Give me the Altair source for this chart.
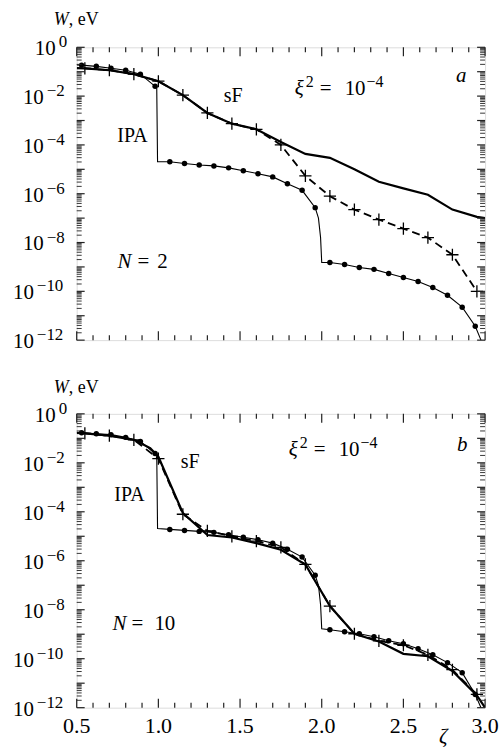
import altair as alt
import pandas as pd

FONT = "Liberation Serif"

# ---------------- data (log10 of W in eV) ----------------
cross_x = [0.55, 0.70, 0.85, 1.00, 1.15, 1.30, 1.45, 1.60, 1.75, 1.90, 2.05, 2.20, 2.35, 2.50, 2.65, 2.80, 2.95]
a_dash_lg = [-0.86, -0.94, -1.10, -1.39, -1.96, -2.69, -3.13, -3.36, -4.00, -5.27, -6.10, -6.65, -7.06, -7.43, -7.80, -8.50, -10.0]
b_dash_lg = [-0.80, -0.89, -1.06, -1.83, -4.10, -4.78, -5.00, -5.20, -5.45, -6.15, -7.85, -8.98, -9.27, -9.45, -9.84, -10.45, -11.46]

a_sF_x = [0.50, 0.55, 0.70, 0.85, 1.00, 1.15, 1.30, 1.45, 1.60, 1.75, 1.90, 2.05, 2.20, 2.35, 2.50, 2.65, 2.80, 2.95, 3.00]
a_sF_lg = [-0.85, -0.86, -0.94, -1.10, -1.39, -1.96, -2.69, -3.13, -3.36, -3.88, -4.37, -4.53, -5.00, -5.51, -5.78, -6.04, -6.65, -6.95, -7.00]
b_sF_x = [0.50, 0.55, 0.70, 0.85, 0.95, 1.00, 1.15, 1.30, 1.45, 1.60, 1.75, 1.90, 2.05, 2.20, 2.35, 2.50, 2.65, 2.80, 2.95, 3.00]
b_sF_lg = [-0.78, -0.80, -0.89, -1.06, -1.40, -1.75, -4.05, -4.95, -5.05, -5.28, -5.55, -6.15, -7.85, -8.98, -9.30, -9.80, -9.90, -10.50, -11.50, -12.0]

dot_x = [0.53, 0.62, 0.71, 0.80, 0.89, 0.98, 1.07, 1.16, 1.25, 1.34, 1.43, 1.52, 1.61, 1.70, 1.79, 1.88, 1.96,
         2.05, 2.14, 2.23, 2.32, 2.41, 2.50, 2.59, 2.68, 2.77, 2.86, 2.94]
a_dot_lg = [-0.73, -0.78, -0.86, -0.94, -1.10, -1.60, -4.69, -4.76, -4.82, -4.86, -4.94, -5.06, -5.18, -5.31, -5.59, -5.86, -6.57,
            -8.82, -8.90, -9.02, -9.10, -9.27, -9.43, -9.60, -9.84, -10.16, -10.65, -11.43]
b_dot_lg = [-0.77, -0.81, -0.85, -0.96, -1.13, -1.62, -4.72, -4.76, -4.80, -4.84, -4.94, -5.04, -5.14, -5.28, -5.53, -5.85, -6.59,
            -8.82, -8.90, -8.98, -9.10, -9.27, -9.39, -9.59, -9.84, -10.16, -10.57, -11.46]
# extra knots of the IPA curve (edges and the two steps), no markers
knot_x = [0.50, 0.99, 0.995, 1.98, 1.993, 2.00, 2.975]
a_knot_lg = [-0.72, -1.65, -4.69, -7.00, -7.80, -8.82, -12.0]
b_knot_lg = [-0.76, -1.65, -4.68, -7.00, -7.80, -8.78, -12.0]

# axis ticks / labels
x_major = [0.5, 1.0, 1.5, 2.0, 2.5, 3.0]
x_labels = ["0.5", "1.0", "1.5", "2.0", "2.5", "3.0"]
x_minor = [0.6, 0.7, 0.8, 0.9, 1.1, 1.2, 1.3, 1.4, 1.6, 1.7, 1.8, 1.9, 2.1, 2.2, 2.3, 2.4, 2.6, 2.7, 2.8, 2.9]
y_decades = list(range(-12, 1))
y_minor_mult = [2, 3, 4, 5, 6, 7, 8, 9]
y_label_exp = [0, -2, -4, -6, -8, -10, -12]

W = 410
ONE = pd.DataFrame({"a": [0]})
XS = alt.Scale(domain=[0.5, 3.0], nice=False, zero=False)
YS = alt.Scale(type="log", domain=[1e-12, 1], nice=False)


def txt(text, x, y, size=20, style="normal", align="left"):
    return alt.Chart(ONE).mark_text(
        text=text, font=FONT, fontSize=size, fontStyle=style, align=align,
        baseline="alphabetic", color="black"
    ).encode(x=alt.value(x), y=alt.value(y))


def panel(H, sF_x, sF_lg, dash_lg, dot_lg, knot_lg, labels, show_x):
    sF = pd.DataFrame({"x": sF_x, "w": [10 ** v for v in sF_lg]})
    dash = pd.DataFrame({"x": cross_x, "w": [10 ** v for v in dash_lg]})
    dots = pd.DataFrame({"x": dot_x, "w": [10 ** v for v in dot_lg]})
    ipa = pd.concat([dots, pd.DataFrame({"x": knot_x, "w": [10 ** v for v in knot_lg]})]).sort_values("x")

    def enc():
        return dict(x=alt.X("x:Q", scale=XS, axis=None), y=alt.Y("w:Q", scale=YS, axis=None))

    layers = []
    layers.append(alt.Chart(ipa).mark_line(color="black", strokeWidth=1.1, clip=True).encode(**enc()))
    layers.append(alt.Chart(dash).mark_line(color="black", strokeWidth=1.8, strokeDash=[8, 5], clip=True).encode(**enc()))
    layers.append(alt.Chart(sF).mark_line(color="black", strokeWidth=2.2, clip=True).encode(**enc()))
    layers.append(alt.Chart(dots).mark_circle(color="black", size=30, opacity=1).encode(**enc()))
    layers.append(alt.Chart(dash).mark_point(shape="M-1,0L1,0M0,-1L0,1", size=150, filled=False,
                                             stroke="black", strokeWidth=1.3, opacity=1).encode(**enc()))

    # inward ticks
    ymaj = pd.DataFrame({"v": [10.0 ** d for d in y_decades]})
    ymin = pd.DataFrame({"v": [m * 10.0 ** d for d in y_decades[:-1] for m in y_minor_mult]})
    xmaj = pd.DataFrame({"v": x_major})
    xmin = pd.DataFrame({"v": x_minor})
    for df, L, sw in [(ymaj, 8, 1.2), (ymin, 5, 0.9)]:
        yv = alt.Y("v:Q", scale=YS, axis=None)
        layers.append(alt.Chart(df).mark_rule(color="#222", strokeWidth=sw).encode(y=yv, x=alt.value(0), x2=alt.value(L)))
        layers.append(alt.Chart(df).mark_rule(color="#222", strokeWidth=sw).encode(y=yv, x=alt.value(W), x2=alt.value(W - L)))
    for df, L in [(xmaj, 9), (xmin, 5)]:
        xv = alt.X("v:Q", scale=XS, axis=None)
        layers.append(alt.Chart(df).mark_rule(color="#222", strokeWidth=1.2).encode(x=xv, y=alt.value(H), y2=alt.value(H - L)))
        layers.append(alt.Chart(df).mark_rule(color="#222", strokeWidth=1.2).encode(x=xv, y=alt.value(0), y2=alt.value(L)))

    if show_x:
        xl = pd.DataFrame({"v": x_major, "s": x_labels})
        layers.append(alt.Chart(xl).mark_text(font=FONT, fontSize=22, align="center", baseline="alphabetic",
                                              color="black")
                      .encode(x=alt.X("v:Q", scale=XS, axis=None), y=alt.value(H + 25), text="s:N"))

    # y tick labels: "10" + superscript exponent
    groups = {}
    for e in y_label_exp:
        s = "0" if e == 0 else "\u2212" + str(-e)
        off = -21 if e == 0 else (-33 if e > -10 else -43)
        groups.setdefault(off, []).append((10.0 ** e, s))
    for off, items in groups.items():
        df = pd.DataFrame({"v": [i[0] for i in items], "s": [i[1] for i in items]})
        yv = alt.Y("v:Q", scale=YS, axis=None)
        layers.append(alt.Chart(df).mark_text(text="10", font=FONT, fontSize=21, align="right",
                                              baseline="alphabetic", dy=8, color="black")
                      .encode(y=yv, x=alt.value(off)))
        layers.append(alt.Chart(df).mark_text(font=FONT, fontSize=17, align="left",
                                              baseline="alphabetic", dy=0, color="black")
                      .encode(y=yv, x=alt.value(off + 3), text="s:N"))

    layers += labels
    return alt.layer(*layers).properties(width=W, height=H)


def xi_label(x0, base):
    return [
        txt("\u03be", x0, base, 21, "italic"),
        txt("2", x0 + 11, base - 8, 16),
        txt("=", x0 + 25, base, 21),
        txt("10", x0 + 50, base, 21),
        txt("\u22124", x0 + 72, base - 8, 16),
    ]


H1, H2 = 294, 295
top_labels = [
    txt("W", -23, -22, 18, "italic"), txt(", eV", -8, -22, 18),
    txt("sF", 157, 55, 20, align="center"),
    txt("IPA", 56, 95, 20, align="center"),
    txt("N", 41, 222, 21, "italic"), txt("=", 61, 222, 21), txt("2", 81, 222, 21),
    txt("a", 386, 35, 21, "italic", align="center"),
    alt.Chart(ONE).mark_rect(opacity=0).encode(x=alt.value(-76), x2=alt.value(427), y=alt.value(-45), y2=alt.value(-44)),
] + xi_label(219, 48)

bot_labels = [
    txt("W", -23, -21, 18, "italic"), txt(", eV", -8, -21, 18),
    txt("sF", 114, 54, 20, align="center"),
    txt("IPA", 53, 87, 20, align="center"),
    txt("N", 36, 217, 21, "italic"), txt("=", 55, 217, 21), txt("10", 78, 217, 21),
    txt("b", 387, 37, 21, "italic", align="center"),
    txt("\u03b6", 368, H2 + 35, 21, "italic", align="center"),
    alt.Chart(ONE).mark_rect(opacity=0).encode(x=alt.value(-76), x2=alt.value(427), y=alt.value(H2 + 40), y2=alt.value(H2 + 41)),
] + xi_label(213, 42)

top = panel(H1, a_sF_x, a_sF_lg, a_dash_lg, a_dot_lg, a_knot_lg, top_labels, False)
bottom = panel(H2, b_sF_x, b_sF_lg, b_dash_lg, b_dot_lg, b_knot_lg, bot_labels, True)

chart = alt.vconcat(top, bottom, spacing=74, bounds="flush").properties(padding=0).configure_view(
    stroke="#222", strokeWidth=1.6
).configure(background="white")

chart.save("out.html", embed_options={"renderer": "svg", "actions": False})
